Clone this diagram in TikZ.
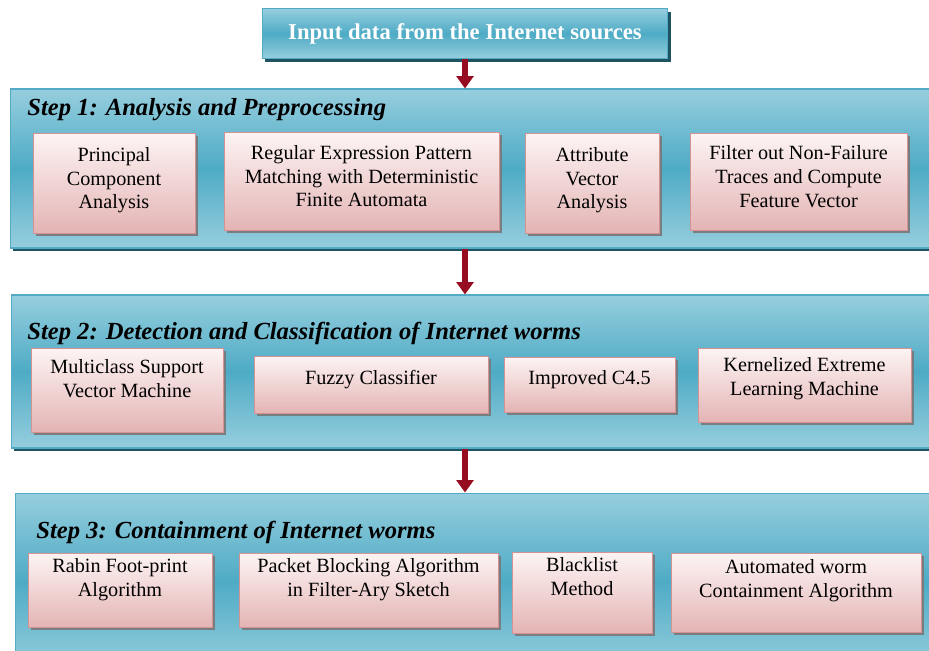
\documentclass[tikz,border=0pt]{standalone}
\usepackage{fontspec}
\setmainfont{Liberation Serif}
\usetikzlibrary{arrows.meta, positioning, shadows}
\definecolor{panellight}{RGB}{150,206,222}
\definecolor{panelmid}{RGB}{78,171,197}
\definecolor{paneledge}{RGB}{82,170,196}
\definecolor{panelshadow}{RGB}{30,84,98}
\definecolor{boxtop}{RGB}{253,244,244}
\definecolor{boxbottom}{RGB}{228,180,180}
\definecolor{boxedge}{RGB}{214,146,146}
\definecolor{boxshadow}{RGB}{120,120,120}
\definecolor{arrowred}{RGB}{150,12,32}
\tikzset{
    flowchart/.style={x=0.02cm, y=-0.02cm, font=\fontsize{11.5}{13.6}\selectfont},
    panel/.style={draw=paneledge, line width=0.6pt, top color=panellight, bottom color=panellight,
        middle color=panelmid, inner sep=0pt,
        drop shadow={shadow xshift=1.8pt, shadow yshift=-1.8pt, fill=panelshadow, opacity=1}},
    inputbox/.style={panel, text=white, font=\bfseries\fontsize{12.9}{14}\selectfont},
    stepbox/.style={draw=boxedge, line width=0.5pt, top color=boxtop, bottom color=boxbottom,
        align=center, inner sep=2pt,
        drop shadow={shadow xshift=1.6pt, shadow yshift=-1.6pt, fill=boxshadow, opacity=0.9}},
    % raise the text inside a box a little (text sits above the middle)
    lift/.style={text depth=#1},
    steptitle/.style={anchor=west, inner sep=0pt, font=\bfseries\itshape\fontsize{14}{16}\selectfont},
    flowarrow/.style={draw=arrowred, line width=3pt, -{Triangle[width=9.5pt, length=7pt]}},
}
\begin{document}
\begin{tikzpicture}[flowchart]
    \useasboundingbox (0,0) rectangle (929,650);

    \node[inputbox, minimum width=8.12cm, minimum height=1.0cm] (input) at (465,33.5)
        {Input data from the Internet sources};

    % step 1
    \node[panel, minimum width=18.6cm, minimum height=3.18cm] (s1) at (475,168.5) {};
    \node[steptitle] (t1) at (27,110) {Step 1: Analysis and Preprocessing};
    \node[stepbox, lift=0.2cm, minimum width=3.24cm, minimum height=2.0cm] (pca) at (114,183)
        {Principal\\Component\\Analysis};
    \node[stepbox, lift=0.2cm, minimum width=5.5cm, minimum height=1.96cm] (regex) at (361.5,181)
        {Regular Expression Pattern\\Matching with Deterministic\\Finite Automata};
    \node[stepbox, lift=0.2cm, minimum width=2.68cm, minimum height=2.0cm] (attr) at (592,183)
        {Attribute\\Vector\\Analysis};
    \node[stepbox, lift=0.2cm, minimum width=4.34cm, minimum height=1.94cm] (filter) at (798.5,181.5)
        {Filter out Non-Failure\\Traces and Compute\\Feature Vector};

    % step 2
    \node[panel, minimum width=18.58cm, minimum height=3.06cm] (s2) at (475.5,371.5) {};
    \node[steptitle] (t2) at (27,333) {Step 2: Detection and Classification of Internet worms};
    \node[stepbox, lift=0.45cm, minimum width=3.84cm, minimum height=1.68cm] (svm) at (127,390)
        {Multiclass Support\\Vector Machine};
    \node[stepbox, lift=0.3cm, minimum width=4.68cm, minimum height=1.14cm] (fuzzy) at (371,384.5)
        {Fuzzy Classifier};
    \node[stepbox, lift=0.3cm, minimum width=3.42cm, minimum height=1.1cm] (c45) at (589.5,384.5)
        {Improved C4.5};
    \node[stepbox, lift=0.33cm, minimum width=4.26cm, minimum height=1.48cm] (kelm) at (804.5,385)
        {Kernelized Extreme\\Learning Machine};

    % step 3
    \node[panel, minimum width=18.5cm, minimum height=3.54cm] (s3) at (477.5,581.5) {};
    \node[steptitle] (t3) at (36,532) {Step 3: Containment of Internet worms};
    \node[stepbox, lift=0.5cm, minimum width=3.68cm, minimum height=1.48cm] (rabin) at (120,590)
        {Rabin Foot-print\\Algorithm};
    \node[stepbox, lift=0.5cm, minimum width=5.18cm, minimum height=1.48cm] (packet) at (368.5,590)
        {Packet Blocking Algorithm\\in Filter-Ary Sketch};
    \node[stepbox, lift=0.65cm, minimum width=2.8cm, minimum height=1.62cm] (black) at (582,592.5)
        {Blacklist\\Method};
    \node[stepbox, lift=0.55cm, minimum width=5.0cm, minimum height=1.58cm] (auto) at (796,592.5)
        {Automated worm\\Containment Algorithm};

    \draw[flowarrow] (input.south) -- (input.south |- s1.north);
    \draw[flowarrow] (s1.south -| input.south) -- (s2.north -| input.south);
    \draw[flowarrow] (s2.south -| input.south) -- (s3.north -| input.south);
\end{tikzpicture}
\end{document}
